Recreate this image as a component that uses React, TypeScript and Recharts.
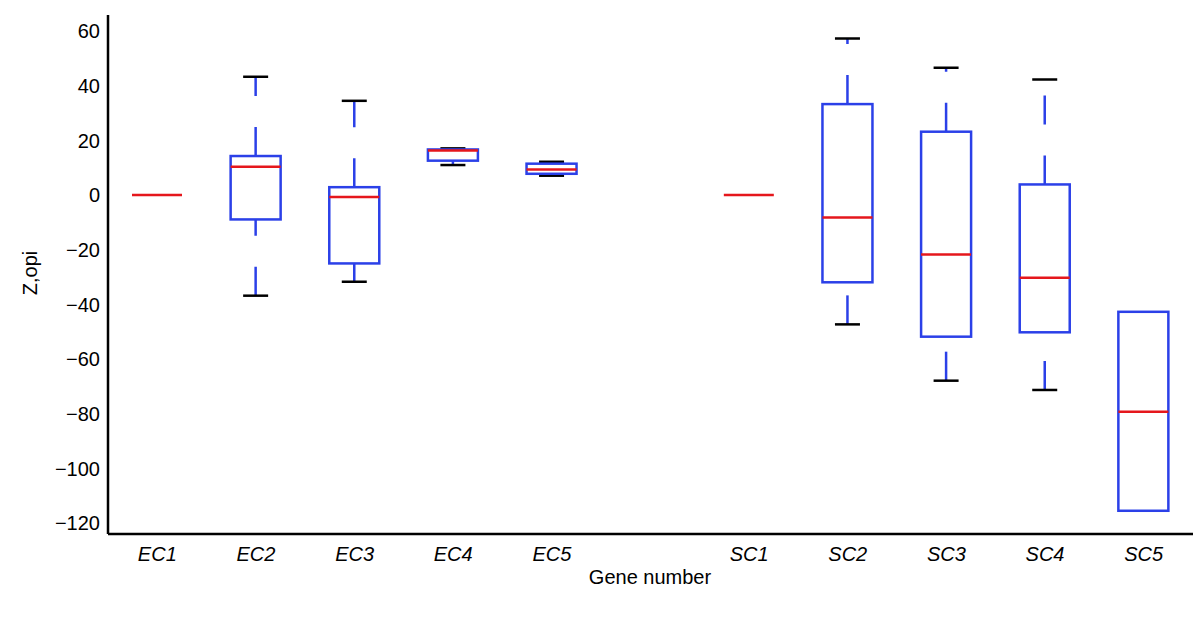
import { ComposedChart, Bar, XAxis, YAxis } from 'recharts';

// one blank slot between the EC and SC groups
const genes = ['EC1', 'EC2', 'EC3', 'EC4', 'EC5', '', 'SC1', 'SC2', 'SC3', 'SC4', 'SC5'];
const whiskerHigh = [0, 43.3, 34.5, 17.1, 12.2, null, 0, 57.3, 46.6, 42.3, null];
const upperQuartile = [0, 14.3, 2.9, 16.7, 11.5, null, 0, 33.3, 23.2, 3.9, -42.7];
const medians = [0, 10.4, -0.7, 16.3, 9.4, null, 0, -8.2, -21.7, -30.2, -79.3];
const lowerQuartile = [0, -8.9, -25.0, 12.6, 7.8, null, 0, -31.9, -51.8, -50.2, -115.5];
const whiskerLow = [0, -36.8, -31.7, 11.0, 7.1, null, 0, -47.3, -67.9, -71.3, null];
const yTicks = [-120, -100, -80, -60, -40, -20, 0, 20, 40, 60];

const BLUE = '#2b40e8';
const RED = '#e5171c';
const FONT = '"Liberation Sans", Arial, Helvetica, sans-serif';

const data = genes.map((name, i) => ({
  name,
  wHigh: whiskerHigh[i],
  q3: upperQuartile[i],
  median: medians[i],
  q1: lowerQuartile[i],
  wLow: whiskerLow[i],
  lo: whiskerLow[i] ?? lowerQuartile[i],
  hi: whiskerHigh[i] ?? upperQuartile[i],
}));

function BoxShape(props: any) {
  const { x, y, width, height, payload } = props;
  if (!payload || payload.median == null) return null;
  const cx = x + width / 2;
  const top = Math.min(y, y + height);
  const bot = Math.max(y, y + height);
  const span = payload.hi - payload.lo;
  const py = (v: number) => (span === 0 ? top : top + ((payload.hi - v) / span) * (bot - top));
  const half = 25;
  const cap = 12.5;

  // a box with no spread is only drawn as its median
  if (payload.q3 === payload.q1) {
    return <line x1={cx - half} x2={cx + half} y1={py(payload.median)} y2={py(payload.median)} stroke={RED} strokeWidth={2.5} />;
  }

  return (
    <g>
      {payload.wHigh != null && (
        <line x1={cx} x2={cx} y1={py(payload.q3)} y2={py(payload.wHigh)} stroke={BLUE} strokeWidth={2.5} strokeDasharray="29 31" />
      )}
      {payload.wLow != null && (
        <line x1={cx} x2={cx} y1={py(payload.wLow)} y2={py(payload.q1)} stroke={BLUE} strokeWidth={2.5} strokeDasharray="29 31" />
      )}
      {payload.wHigh != null && (
        <line x1={cx - cap} x2={cx + cap} y1={py(payload.wHigh)} y2={py(payload.wHigh)} stroke="#000" strokeWidth={2.5} />
      )}
      {payload.wLow != null && (
        <line x1={cx - cap} x2={cx + cap} y1={py(payload.wLow)} y2={py(payload.wLow)} stroke="#000" strokeWidth={2.5} />
      )}
      <rect
        x={cx - half}
        y={py(payload.q3)}
        width={half * 2}
        height={py(payload.q1) - py(payload.q3)}
        fill="none"
        stroke={BLUE}
        strokeWidth={2.5}
      />
      <line x1={cx - half} x2={cx + half} y1={py(payload.median)} y2={py(payload.median)} stroke={RED} strokeWidth={2.5} />
    </g>
  );
}

export default function App() {
  return (
    <div style={{ position: 'absolute', left: 0, top: 0, background: '#fff' }}>
      <ComposedChart
        width={1200}
        height={622}
        data={data}
        margin={{ top: 15, right: 7, bottom: 0, left: 0 }}
      >
        <XAxis
          dataKey="name"
          interval={0}
          height={88}
          tickLine={false}
          tickMargin={7}
          axisLine={{ stroke: '#000', strokeWidth: 2.5 }}
          tick={{ fill: '#000', fontSize: 20, fontStyle: 'italic', fontFamily: FONT }}
          label={{
            content: () => (
              <text x={650} y={584} textAnchor="middle" fill="#000" fontSize={20} fontFamily={FONT}>
                Gene number
              </text>
            ),
          }}
        />
        <YAxis
          type="number"
          width={108}
          domain={[-124, 65.9]}
          ticks={yTicks}
          allowDataOverflow
          tickLine={false}
          axisLine={{ stroke: '#000', strokeWidth: 2.5 }}
          tick={{ fill: '#000', fontSize: 20, fontFamily: FONT }}
          tickFormatter={(v: number) => (v < 0 ? `\u2212${Math.abs(v)}` : `${v}`)}
          label={{
            content: () => (
              <text x={37} y={273} transform="rotate(-90 37 273)" textAnchor="middle" fill="#000" fontSize={20} fontFamily={FONT}>
                Z,opi
              </text>
            ),
          }}
        />
        <Bar
          dataKey={(d: any) => (d.lo == null ? null : [d.lo, d.hi])}
          barSize={50}
          shape={BoxShape}
          isAnimationActive={false}
        />
      </ComposedChart>
    </div>
  );
}
